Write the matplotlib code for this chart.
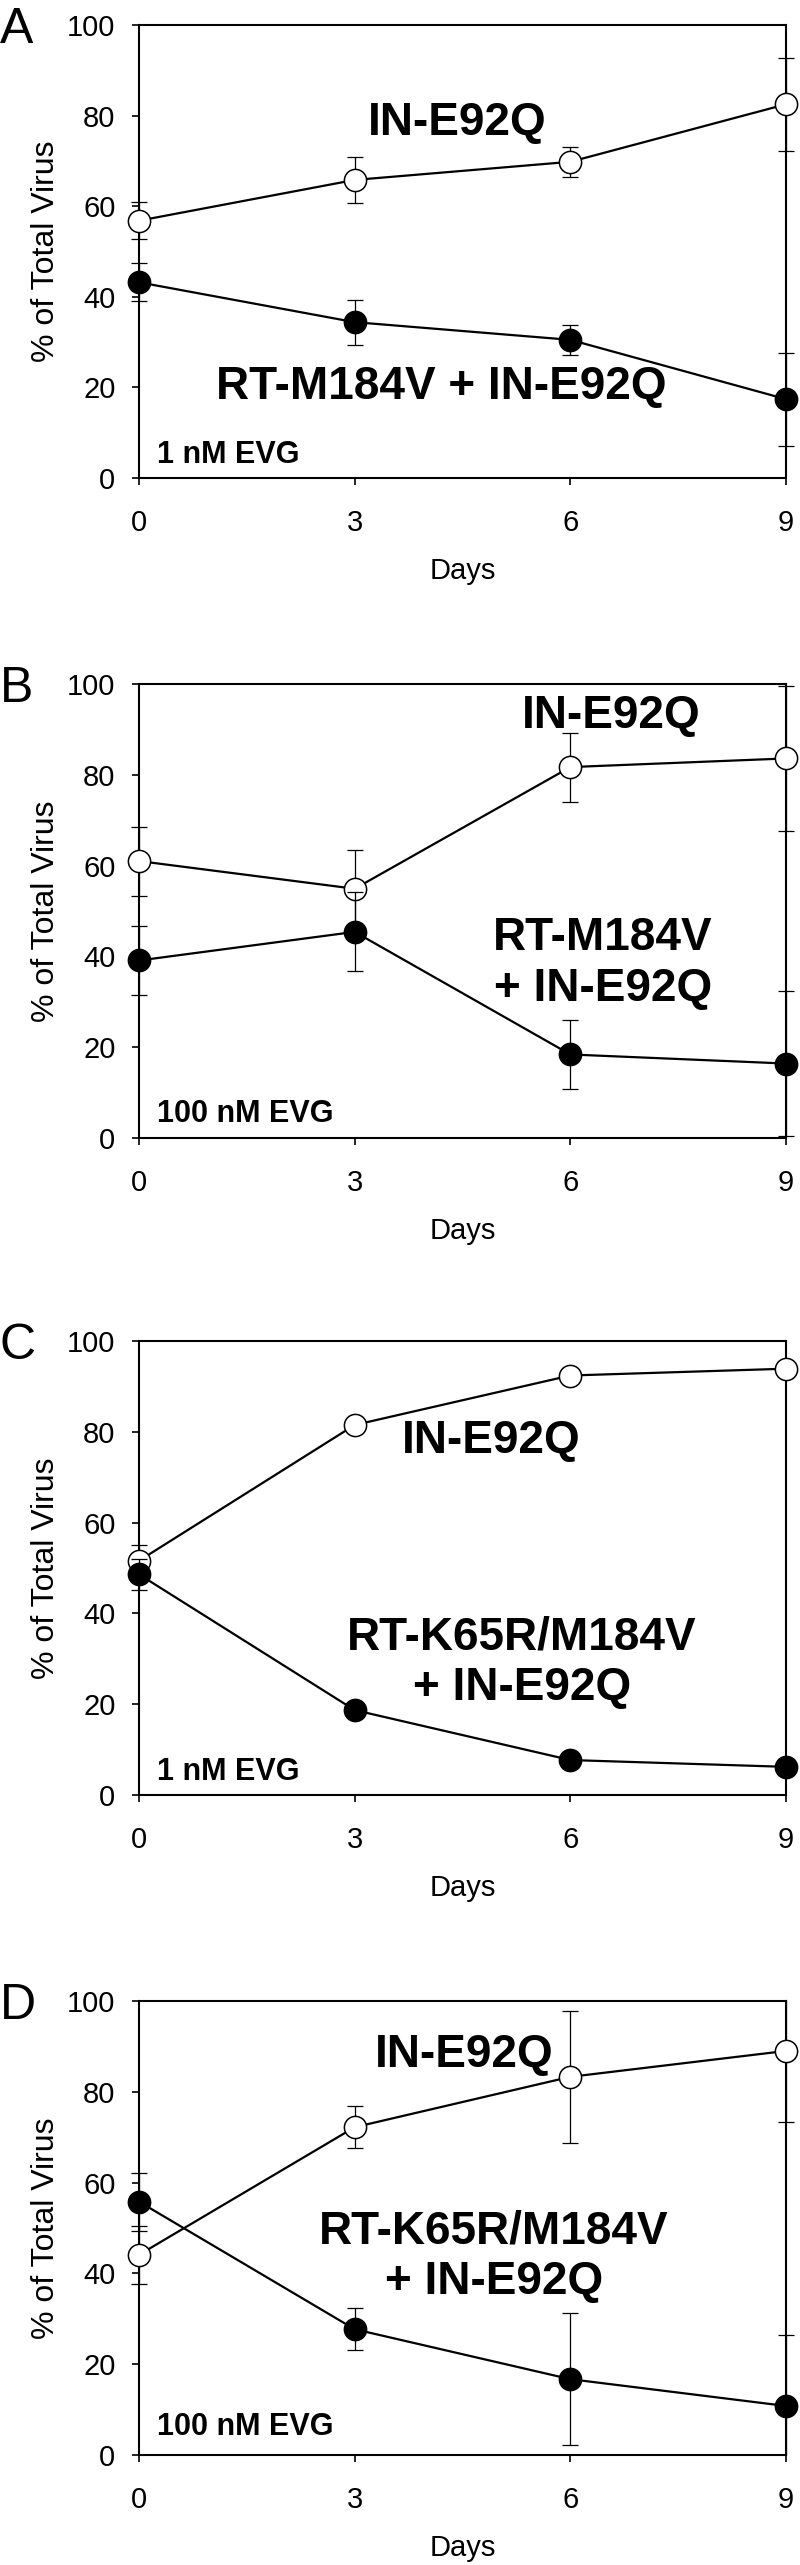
import matplotlib
matplotlib.use("Agg")
import matplotlib.pyplot as plt
from matplotlib.transforms import Bbox, TransformedBbox

plt.rcParams['font.family'] = ['Liberation Sans', 'DejaVu Sans']

# ---------------- data ----------------
days = [0, 3, 6, 9]

a_open = [56.8, 65.8, 69.8, 82.5]
a_open_err = [4.1, 5.0, 3.3, 10.3]
a_filled = [43.2, 34.4, 30.5, 17.4]
a_filled_err = [4.2, 5.0, 3.3, 10.3]

b_open = [61.0, 54.9, 81.7, 83.6]
b_open_err = [7.6, 8.5, 7.6, 16.0]
b_filled = [39.1, 45.4, 18.4, 16.4]
b_filled_err = [7.6, 8.7, 7.7, 16.0]

c_open = [51.6, 81.5, 92.4, 93.9]
c_open_err = [3.4, 0.0, 0.0, 0.0]
c_filled = [48.6, 18.7, 7.7, 6.2]
c_filled_err = [3.4, 0.0, 0.0, 0.0]

d_open = [44.1, 72.2, 83.3, 89.0]
d_open_err = [6.4, 4.6, 14.6, 15.7]
d_filled = [55.8, 27.7, 16.7, 10.8]
d_filled_err = [6.4, 4.6, 14.5, 15.6]

panel_letters = ["A", "B", "C", "D"]
conc_labels = ["1 nM EVG", "100 nM EVG", "1 nM EVG", "100 nM EVG"]
open_labels = ["IN-E92Q", "IN-E92Q", "IN-E92Q", "IN-E92Q"]
filled_labels = ["RT-M184V + IN-E92Q", "RT-M184V\n+ IN-E92Q",
                 "RT-K65R/M184V\n+ IN-E92Q", "RT-K65R/M184V\n+ IN-E92Q"]
open_label_pos = [(4.42, 78.4), (6.57, 93.0), (4.90, 78.0), (4.53, 88.1)]
filled_label_pos = [(4.21, 20.1), (6.45, 38.4), (5.33, 29.1), (4.94, 43.7)]
conc_label_y = [0.033, 0.035, 0.033, 0.045]

x_ticks = [0, 3, 6, 9]
y_ticks = [0, 20, 40, 60, 80, 100]

panels = [
    (a_open, a_open_err, a_filled, a_filled_err),
    (b_open, b_open_err, b_filled, b_filled_err),
    (c_open, c_open_err, c_filled, c_filled_err),
    (d_open, d_open_err, d_filled, d_filled_err),
]

# ---------------- layout ----------------
W, H = 800, 2565
fig = plt.figure(figsize=(W / 100, H / 100), dpi=100)
ax_left, ax_right = 139, 786
ax_tops = [25, 684, 1341, 2001]
ax_bottoms = [478, 1138, 1795, 2455]


def draw_err(ax, y, err, z):
    artists = ax.errorbar(days, y, yerr=err, fmt='none', ecolor='black',
                          elinewidth=0.9, capsize=5.5, capthick=0.9, zorder=z)
    clip = TransformedBbox(Bbox.from_extents(-0.06, 0.0, 1.06, 1.0), ax.transAxes)
    for a in list(artists.lines[1]) + list(artists.lines[2]):
        a.set_clip_box(clip)
        a.set_clip_on(True)


for i, (yo, eo, yf, ef) in enumerate(panels):
    top, bot = ax_tops[i], ax_bottoms[i]
    ax = fig.add_axes([ax_left / W, 1 - bot / H, (ax_right - ax_left) / W, (bot - top) / H])

    draw_err(ax, yo, eo, 2.5)
    ax.plot(days, yo, '-', color='black', lw=1.6, marker='o', ms=16,
            mfc='white', mec='black', mew=1.1, clip_on=False, zorder=3)
    draw_err(ax, yf, ef, 3.5)
    ax.plot(days, yf, '-', color='black', lw=1.6, marker='o', ms=16,
            mfc='black', mec='black', mew=1.1, clip_on=False, zorder=4)

    ax.set_xlim(0, 9)
    ax.set_ylim(0, 100)
    ax.set_xticks(x_ticks)
    ax.set_yticks(y_ticks)
    ax.tick_params(axis='both', direction='out', length=5, width=1.2, labelsize=21)
    ax.tick_params(axis='y', pad=12)
    ax.tick_params(axis='x', pad=17)
    for s in ax.spines.values():
        s.set_linewidth(1.5)
    ax.set_xlabel("Days", fontsize=21, labelpad=15)
    ax.set_ylabel("% of Total Virus", fontsize=23, labelpad=4)

    ox, oy = open_label_pos[i]
    ax.text(ox, oy, open_labels[i], ha='center', va='center', fontsize=33,
            fontweight='bold', zorder=6)
    fx, fy = filled_label_pos[i]
    ax.text(fx, fy, filled_labels[i], ha='center', va='center', fontsize=33,
            fontweight='bold', multialignment='center', linespacing=1.2, zorder=6)
    ax.text(0.028, conc_label_y[i], conc_labels[i], transform=ax.transAxes,
            ha='left', va='baseline', fontsize=22, fontweight='bold', zorder=6)

    fig.text(0.0, 1 - (top - 18) / H, panel_letters[i], ha='left', va='top', fontsize=36)

fig.savefig("out.png", dpi=100)
